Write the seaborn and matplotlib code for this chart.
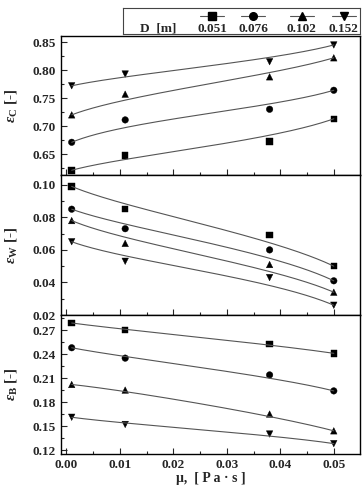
import numpy as np
import pandas as pd
import matplotlib
matplotlib.use("Agg")
import matplotlib.pyplot as plt
from matplotlib.ticker import MultipleLocator, FormatStrFormatter
import seaborn as sns

# viscosity values and column diameters
mu = [0.001, 0.011, 0.038, 0.05]
diam = ["0.051", "0.076", "0.102", "0.152"]

# eps_C, one list per diameter
epsC_051 = [0.621, 0.647, 0.672, 0.713]
epsC_076 = [0.671, 0.711, 0.730, 0.764]
epsC_102 = [0.720, 0.757, 0.788, 0.822]
epsC_152 = [0.772, 0.793, 0.815, 0.845]

# eps_W
epsW_051 = [0.099, 0.085, 0.069, 0.050]
epsW_076 = [0.085, 0.073, 0.060, 0.041]
epsW_102 = [0.078, 0.064, 0.051, 0.034]
epsW_152 = [0.065, 0.053, 0.043, 0.026]

# eps_B
epsB_051 = [0.279, 0.270, 0.253, 0.241]
epsB_076 = [0.248, 0.235, 0.214, 0.194]
epsB_102 = [0.202, 0.195, 0.165, 0.144]
epsB_152 = [0.161, 0.152, 0.140, 0.128]

panels = {
    "C": [epsC_051, epsC_076, epsC_102, epsC_152],
    "W": [epsW_051, epsW_076, epsW_102, epsW_152],
    "B": [epsB_051, epsB_076, epsB_102, epsB_152],
}

rows = []
for p, series in panels.items():
    for d, vals in zip(diam, series):
        for m, v in zip(mu, vals):
            rows.append({"panel": p, "D": d, "mu": m, "eps": v})
df = pd.DataFrame(rows)


def bspline(xs, ys, n=200):
    # cubic bezier with the 4 points as control points (Origin B-spline)
    t = np.linspace(0, 1, n)
    b = [(1 - t) ** 3, 3 * (1 - t) ** 2 * t, 3 * (1 - t) * t ** 2, t ** 3]
    x = sum(bi * xi for bi, xi in zip(b, xs))
    y = sum(bi * yi for bi, yi in zip(b, ys))
    return x, y


sns.set_style("ticks")
plt.rcParams["font.family"] = ["Liberation Serif", "DejaVu Serif"]
plt.rcParams["font.weight"] = "bold"
plt.rcParams["mathtext.fontset"] = "custom"
plt.rcParams["mathtext.rm"] = "Liberation Serif"
plt.rcParams["mathtext.it"] = "Liberation Serif:italic"
plt.rcParams["mathtext.bf"] = "Liberation Serif:bold"

markers = {"0.051": "s", "0.076": "o", "0.102": "^", "0.152": "v"}

fig = plt.figure(figsize=(3.63, 4.87), dpi=100)
L, W = 61 / 363, 299 / 363
ax_c = fig.add_axes([L, 1 - 175 / 487, W, 139 / 487])
ax_w = fig.add_axes([L, 1 - 315 / 487, W, 140 / 487])
ax_b = fig.add_axes([L, 1 - 454 / 487, W, 139 / 487])

setup = [
    (ax_c, "C", (0.6125, 0.861), 0.05, 0.025),
    (ax_w, "W", (0.02, 0.106), 0.02, 0.01),
    (ax_b, "B", (0.115, 0.289), 0.03, 0.015),
]

for ax, p, ylim, maj, mnr in setup:
    sub = df[df.panel == p]
    for d in diam:
        s = sub[sub.D == d]
        cx, cy = bspline(s.mu.values, s.eps.values)
        sns.lineplot(x=cx, y=cy, ax=ax, color="#555555", lw=0.8,
                     sort=False, estimator=None)
    sns.scatterplot(data=sub, x="mu", y="eps", style="D", markers=markers,
                    color="black", s=22, edgecolor="black", linewidth=0.3,
                    ax=ax, legend=False)
    ax.set_xlim(-0.001, 0.0549)
    ax.set_ylim(*ylim)
    ax.yaxis.set_major_locator(MultipleLocator(maj))
    ax.yaxis.set_minor_locator(MultipleLocator(mnr))
    ax.yaxis.set_major_formatter(FormatStrFormatter("%.2f"))
    ax.xaxis.set_major_locator(MultipleLocator(0.01))
    ax.xaxis.set_minor_locator(MultipleLocator(0.005))
    ax.tick_params(which="both", direction="in", labelsize=9.5, width=0.8)
    ax.tick_params(which="major", length=4)
    ax.tick_params(which="minor", length=2.5)
    for sp in ax.spines.values():
        sp.set_linewidth(1.0)
        sp.set_color("black")
    ax.set_ylabel(r"$\varepsilon_{\mathrm{%s}}$ [-]" % p, fontsize=11,
                  fontweight="bold")
    ax.set_xlabel("")
    ax.yaxis.set_label_coords(-0.14, 0.5)

ax_c.tick_params(labelbottom=False)
ax_w.tick_params(labelbottom=False)
ax_b.xaxis.set_major_formatter(FormatStrFormatter("%.2f"))
ax_b.set_xlabel("μ,  [ P a · s ]", fontsize=10, fontweight="bold", labelpad=1)

# legend box on top
lg = fig.add_axes([123 / 363, 1 - 34 / 487, 237 / 363, 26 / 487])
lg.set_xlim(0, 1)
lg.set_ylim(0, 1)
lg.set_xticks([])
lg.set_yticks([])
for sp in lg.spines.values():
    sp.set_linewidth(0.8)
    sp.set_color("#444444")
lg.text(0.148, 0.2, "D  [m]", ha="center", va="center", fontsize=9.5,
        fontweight="bold")
for xc, d in zip([0.376, 0.549, 0.755, 0.932], diam):
    lg.plot([xc - 0.05, xc + 0.05], [0.70, 0.70], color="#555555", lw=0.8)
    lg.plot([xc], [0.70], marker=markers[d], color="black", ms=5.5, ls="")
    lg.text(xc, 0.2, d, ha="center", va="center", fontsize=9.5,
            fontweight="bold")

fig.savefig("out.png", dpi=100)
